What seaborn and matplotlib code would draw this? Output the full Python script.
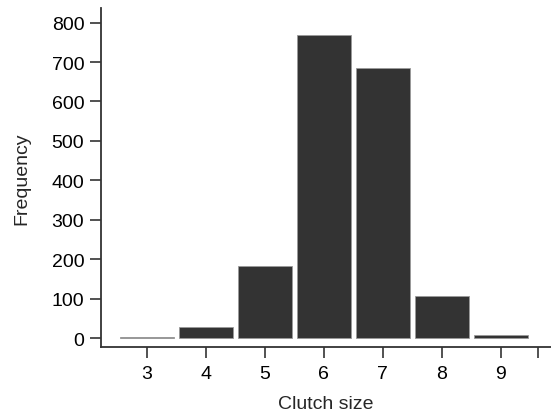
import numpy as np
import pandas as pd
import seaborn as sns
import matplotlib.pyplot as plt

# clutch size counts
clutch = [3, 4, 5, 6, 7, 8, 9]
freq = [3, 27, 183, 769, 684, 107, 8]
y_ticks = [0, 100, 200, 300, 400, 500, 600, 700, 800]


def plot(data):
    sns.set_style("ticks")
    plt.rcParams['font.family'] = ['Liberation Sans', 'DejaVu Sans']

    fig = plt.figure(figsize=(5.51, 4.14), dpi=100)
    ax = fig.add_axes([0.1833, 0.1594, 0.8167, 0.8188])

    sns.barplot(data=data, x='Clutch', y='Frequency', native_scale=True,
                width=0.915, color='#333333', saturation=1,
                edgecolor='#9a9a9a', linewidth=0.6, ax=ax)

    ax.set_xlim(2.22, 9.85)
    ax.set_ylim(-22.8, 837)
    ax.set_yticks(y_ticks)
    ax.set_xticks(clutch + [9.63])
    ax.set_xticklabels([str(c) for c in clutch] + [''])

    ax.tick_params(axis='both', labelsize=14, colors='#333333',
                   labelcolor='black', width=1.2)
    ax.tick_params(axis='y', length=8, pad=4)
    ax.tick_params(axis='x', length=8, pad=5)

    for side in ['left', 'bottom']:
        ax.spines[side].set_linewidth(1.3)
        ax.spines[side].set_color('#333333')
    for side in ['top', 'right']:
        ax.spines[side].set_visible(False)

    ax.set_xlabel('Clutch size', fontsize=14, labelpad=9)
    ax.set_ylabel('Frequency', fontsize=14, labelpad=15)

    fig.savefig('out.png', dpi=100)
    plt.close(fig)


data = pd.DataFrame({'Clutch': clutch, 'Frequency': freq})
plot(data)
